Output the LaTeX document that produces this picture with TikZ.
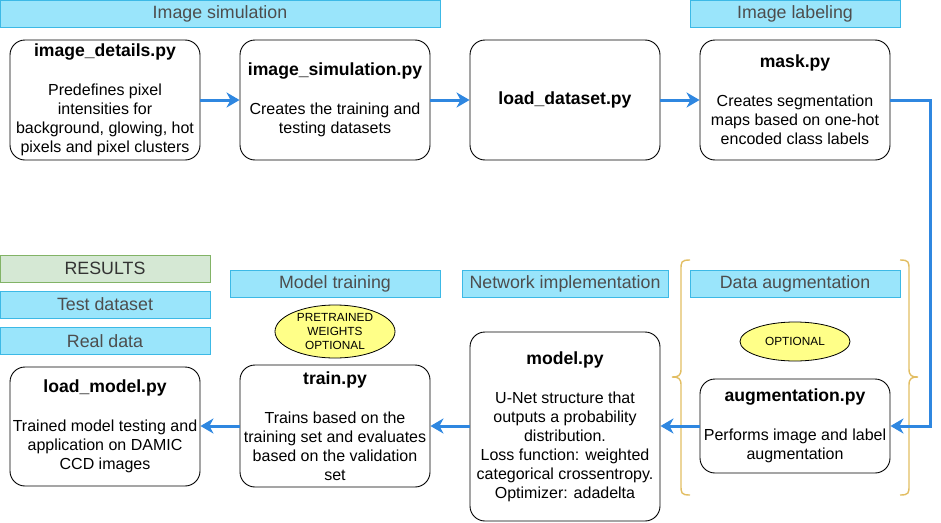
\documentclass[tikz,border=0pt]{standalone}
\usepackage{fontspec}
\setmainfont{Liberation Sans}
\usetikzlibrary{shapes.geometric,arrows.meta}
\definecolor{lblfill}{HTML}{9AE5FB}
\definecolor{lbldraw}{HTML}{3CB9E6}
\definecolor{lbltext}{HTML}{4D4D4D}
\definecolor{resfill}{HTML}{D5E8D4}
\definecolor{resdraw}{HTML}{82B366}
\definecolor{arrowblue}{HTML}{2F87E0}
\definecolor{bracecol}{HTML}{E2BE63}
\definecolor{ellfill}{HTML}{FFFF88}
\tikzset{
  procbox/.style={draw=black, line width=0.9pt, fill=white, rounded corners=15pt,
    minimum width=190pt, inner sep=0pt, align=center,
    font=\fontsize{16}{19}\selectfont},
  lblbox/.style={draw=lbldraw, line width=0.9pt, fill=lblfill, text=lbltext,
    minimum height=27pt, inner sep=0pt, font=\fontsize{17.8}{20}\selectfont},
  resbox/.style={lblbox, draw=resdraw, fill=resfill, text=black!80},
  optell/.style={ellipse, draw=black, line width=0.8pt, fill=ellfill, inner sep=0pt,
    align=center, font=\fontsize{11.8}{14}\selectfont},
  flow/.style={draw=arrowblue, line width=3pt, -{Stealth[length=13pt,width=15pt,inset=4pt]}},
  bracebrd/.style={draw=bracecol, line width=1.4pt},
}
\newcommand{\ttl}[1]{{\bfseries\fontsize{17.6}{19}\selectfont #1}}
\begin{document}
\begin{tikzpicture}[x=1pt,y=-1pt]
\useasboundingbox (0,0) rectangle (941,522);
% labels
\node[lblbox, minimum width=440pt] (lsim) at (220,13.5) {Image simulation};
\node[lblbox, minimum width=210pt] (llab) at (795,13.5) {Image labeling};
\node[resbox, minimum width=210pt] (lres) at (105,268.5) {RESULTS};
\node[lblbox, minimum width=210pt] (ltest) at (105,304.5) {Test dataset};
\node[lblbox, minimum width=210pt] (lreal) at (105,341) {Real data};
\node[lblbox, minimum width=210pt] (ltrain) at (335,283.5) {Model training};
\node[lblbox, minimum width=206pt] (lnet) at (565,283.5) {Network implementation};
\node[lblbox, minimum width=210pt] (laug) at (795,283.5) {Data augmentation};
% ellipses
\node[optell, minimum width=120pt, minimum height=53pt] (epre) at (335,331.5) {PRETRAINED\\WEIGHTS\\OPTIONAL};
\node[optell, minimum width=110pt, minimum height=39pt] (eopt) at (795,341.5) {OPTIONAL};
% top row boxes
\node[procbox, minimum height=120pt] (details) at (105,100) {\ttl{image\_details.py}\\[20pt]Predefines pixel\\intensities for\\background, glowing, hot\\pixels and pixel clusters};
\node[procbox, minimum height=120pt] (sim) at (335,100) {\ttl{image\_simulation.py}\\[20pt]Creates the training and\\testing datasets};
\node[procbox, minimum height=120pt] (load) at (565,100) {\ttl{load\_dataset.py}};
\node[procbox, minimum height=120pt] (mask) at (795,100) {\ttl{mask.py}\\[20pt]Creates segmentation\\maps based on one-hot\\encoded class labels};
% bottom row boxes
\node[procbox, minimum height=119pt] (lmodel) at (105,426.5) {\ttl{load\_model.py}\\[20pt]Trained model testing and\\application on DAMIC\\CCD images};
\node[procbox, minimum height=122pt] (train) at (335,426) {\ttl{train.py}\\[20pt]Trains based on the\\training set and evaluates\\based on the validation\\set};
\node[procbox, minimum height=189pt] (model) at (565,426.5) {\ttl{model.py}\\[20pt]U-Net structure that\\outputs a probability\\distribution.\\Loss function: weighted\\categorical crossentropy.\\Optimizer: adadelta};
\node[procbox, minimum height=94pt] (aug) at (795,426) {\ttl{augmentation.py}\\[20pt]Performs image and label\\augmentation};
% braces
\draw[bracebrd] (690,260) .. controls (681,260) and (681,262) .. (681,270)
  -- (681,369) .. controls (681,376) and (678,377) .. (672,377)
  .. controls (678,377) and (681,378) .. (681,385)
  -- (681,485) .. controls (681,493) and (681,495) .. (690,495);
\draw[bracebrd] (900,260) .. controls (909,260) and (909,262) .. (909,270)
  -- (909,369) .. controls (909,376) and (912,377) .. (918,377)
  .. controls (912,377) and (909,378) .. (909,385)
  -- (909,485) .. controls (909,493) and (909,495) .. (900,495);
% connectors
\draw[flow] (details.east) -- (sim.west);
\draw[flow] (sim.east) -- (load.west);
\draw[flow] (load.east) -- (mask.west);
\draw[flow] (mask.east) -- (930,100) |- (aug.east);
\draw[flow] (aug.west) -- (model.east |- aug.west);
\draw[flow] (model.west |- train.east) -- (train.east);
\draw[flow] (train.west) -- (lmodel.east |- train.west);
\end{tikzpicture}
\end{document}
